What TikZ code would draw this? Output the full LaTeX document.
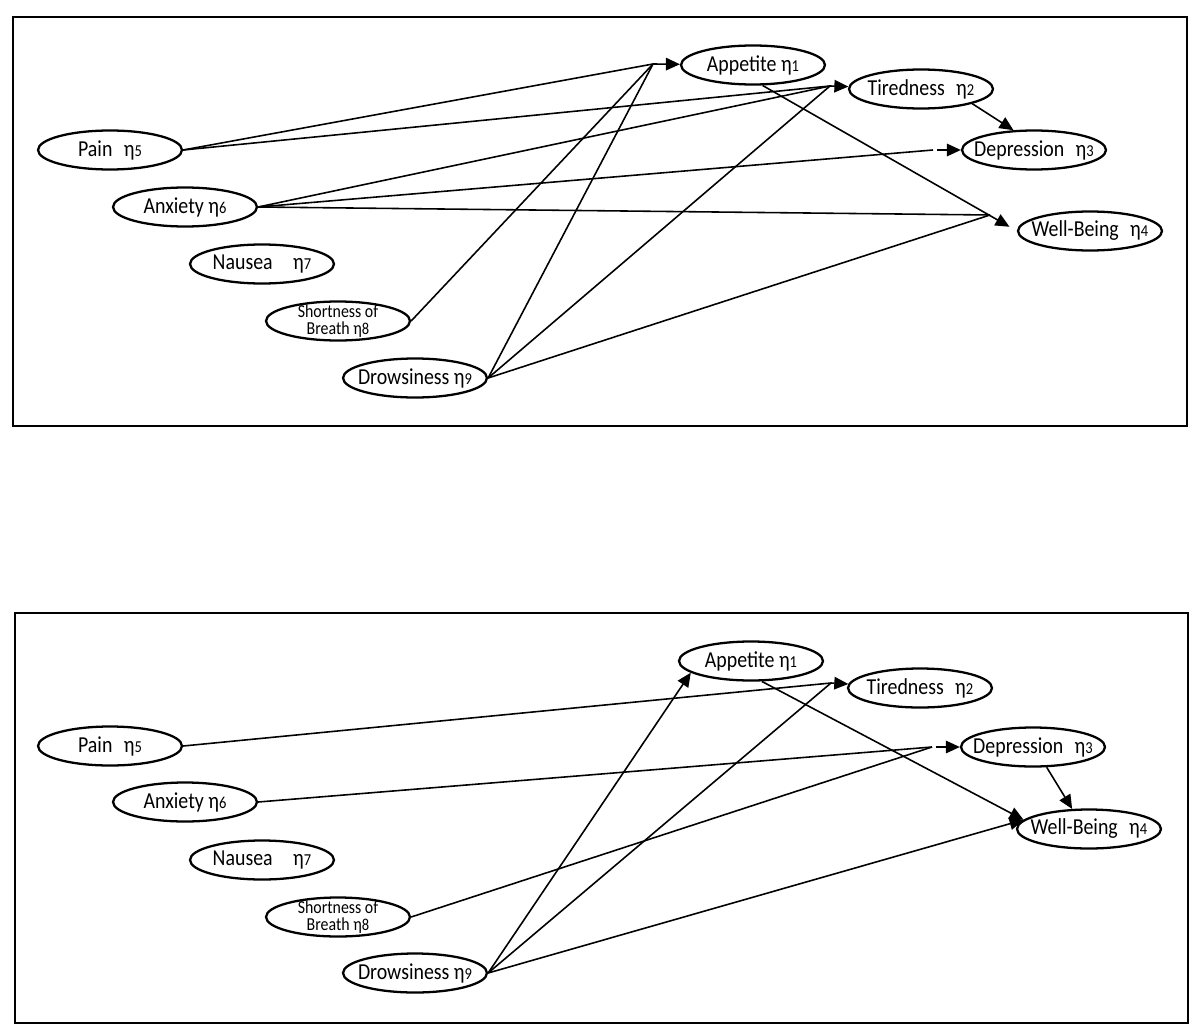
\documentclass[tikz,border=0pt]{standalone}
\usepackage{fontspec}
\setmainfont[FakeStretch=0.87]{Carlito}
\usetikzlibrary{shapes.geometric,arrows.meta}
\newcommand\subd[1]{{\fontsize{9.5}{9.5}\selectfont #1}}
\newcommand\gapx{\hspace{0.5em}}
\begin{document}
\begin{tikzpicture}[x=0.02cm,y=-0.02cm,
  ell/.style={draw,ellipse,line width=1.3pt,minimum width=2.88cm,minimum height=0.78cm,inner sep=0pt},
  con/.style={line width=0.9pt},
  arr/.style={con,-{Triangle[length=0.28cm,width=0.25cm]}},
  panel/.style={line width=1.2pt},
  every label/.style={font=\fontsize{13}{14}\selectfont,inner sep=0pt},
  small/.style={font=\fontsize{10.4}{9.8}\selectfont,align=center,inner sep=0pt}]
\useasboundingbox (0,0) rectangle (1200,1034);
\draw[panel] (13,17) rectangle (1187,426);
\draw[panel] (15,613) rectangle (1188,1023);

% ---------- top panel ----------
\node[ell,label={center:Appetite η\subd{1}}] (app) at (753,65) {};
\node[ell,label={center:Tiredness\gapx η\subd{2}}] (tir) at (921,89) {};
\node[ell,label={center:Depression\gapx η\subd{3}}] (dep) at (1034,150) {};
\node[ell,label={center:Well-Being\gapx η\subd{4}}] (wb) at (1090,231) {};
\node[ell,label={center:Pain\gapx η\subd{5}}] (pain) at (110,150) {};
\node[ell,label={center:Anxiety η\subd{6}}] (anx) at (185,207) {};
\node[ell,label={center:Nausea\hspace{0.9em}η\subd{7}}] (nau) at (262,264) {};
\node[ell,label={[small]center:Shortness of\\Breath η\subd{8}}] (sob) at (338,321) {};
\node[ell,label={center:Drowsiness η\subd{9}}] (drow) at (415,378) {};

\coordinate (jA) at (653,64);
\coordinate (jT) at (830,86);
\coordinate (jD) at (933,150);
\coordinate (jW) at (990,215);

\draw[con] (pain.east) -- (jA);
\draw[con] (pain.east) -- (jT);
\draw[con] (anx.east) -- (jT);
\draw[con] (anx.east) -- (jD);
\draw[con] (anx.east) -- (jW);
\draw[con] (sob.east) -- (jA);
\draw[con] (drow.east) -- (jA);
\draw[con] (drow.east) -- (jT);
\draw[con] (drow.east) -- (jW);
\draw[arr] (jA) -- (app);
\draw[arr] (jT) -- (tir);
\draw[arr,shorten <=0.08cm] (jD) -- (dep);
\draw[arr,shorten >=0.17cm] (app.-65) -- (wb.west);
\draw[arr] (tir.-16) -- (dep.136);

% ---------- bottom panel ----------
\node[ell,label={center:Appetite η\subd{1}}] (app2) at (751,661) {};
\node[ell,label={center:Tiredness\gapx η\subd{2}}] (tir2) at (920,688) {};
\node[ell,label={center:Depression\gapx η\subd{3}}] (dep2) at (1033,747) {};
\node[ell,label={center:Well-Being\gapx η\subd{4}}] (wb2) at (1089,829) {};
\node[ell,label={center:Pain\gapx η\subd{5}}] (pain2) at (110,746) {};
\node[ell,label={center:Anxiety η\subd{6}}] (anx2) at (185,802) {};
\node[ell,label={center:Nausea\hspace{0.9em}η\subd{7}}] (nau2) at (262,860) {};
\node[ell,label={[small]center:Shortness of\\Breath η\subd{8}}] (sob2) at (338,917) {};
\node[ell,label={center:Drowsiness η\subd{9}}] (drow2) at (415,973) {};

\coordinate (jT2) at (831,683);
\coordinate (jD2) at (932,747);

\draw[con] (pain2.east) -- (jT2);
\draw[con] (anx2.east) -- (jD2);
\draw[con] (sob2.east) -- (jD2);
\draw[con] (drow2.east) -- (jT2);
\draw[arr] (drow2.east) -- (app2.191);
\draw[arr] (drow2.east) -- (wb2.172);
\draw[arr] (app2.-62) -- (wb2.172);
\draw[arr] (jT2) -- (tir2);
\draw[arr,shorten <=0.08cm] (jD2) -- (dep2);
\draw[arr] (dep2.-56) -- (wb2.130);
\end{tikzpicture}
\end{document}
